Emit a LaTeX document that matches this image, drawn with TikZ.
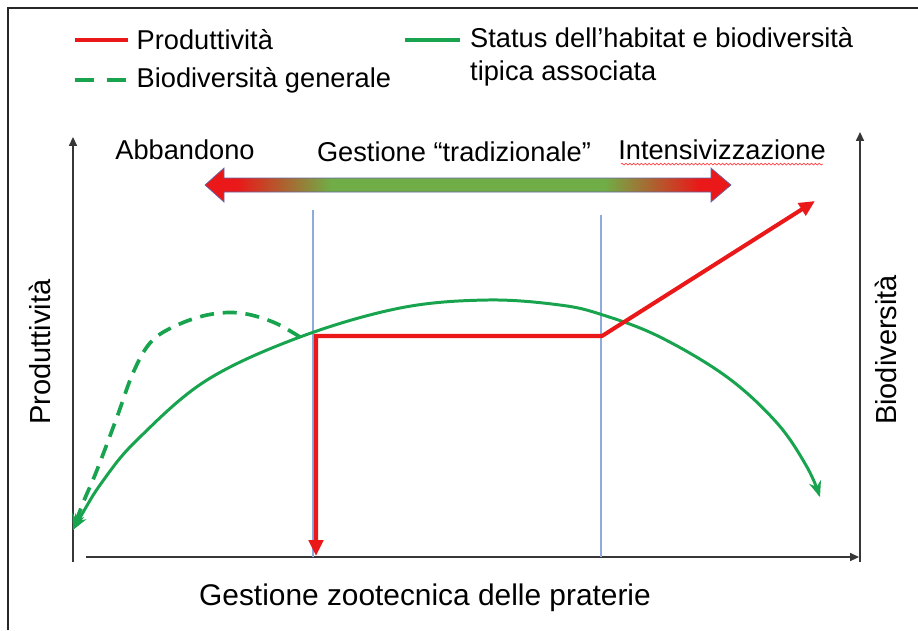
\documentclass[tikz,border=0pt]{standalone}
\usepackage{fontspec}
\setmainfont{Liberation Sans}
\usetikzlibrary{shapes, arrows.meta, positioning, decorations.pathmorphing}

\definecolor{prodred}{RGB}{234,24,24}
\definecolor{habgreen}{RGB}{24,164,78}
\definecolor{bargreen}{RGB}{112,173,71}
\definecolor{guideblue}{RGB}{143,170,220}
\definecolor{axisgray}{RGB}{55,55,55}
\pgfdeclarehorizontalshading{gestshade}{100bp}{color(0bp)=(prodred); color(28bp)=(prodred); color(37bp)=(bargreen); color(63bp)=(bargreen); color(72bp)=(prodred); color(100bp)=(prodred)}

\begin{document}
\begin{tikzpicture}[x=0.02cm, y=-0.02cm,
    font=\fontsize{15.5}{18.5}\selectfont,
    axis/.style={draw=axisgray, line width=0.9pt},
    prodline/.style={draw=prodred, line width=2.3pt},
    habline/.style={draw=habgreen, line width=1.7pt},
    guide/.style={draw=guideblue, line width=0.6pt},
    biglabel/.style={font=\fontsize{16.5}{19}\selectfont}]

\useasboundingbox (0,0) rectangle (918,630);

% Frame
\draw[line width=1.2pt, black!85] (8,630) -- (8,8) -- (918,8);

% Legend
\coordinate (lr1) at (75,40);
\coordinate (lr2) at (128,40);
\coordinate (ld1) at (75,80);
\coordinate (ld2) at (128,80);
\coordinate (lg1) at (405,40);
\coordinate (lg2) at (460,40);
\draw[prodline] (lr1) -- (lr2);
\draw[habline, line width=2.1pt, dash pattern=on 11pt off 7pt] (ld1) -- (ld2);
\draw[habline, line width=2.1pt] (lg1) -- (lg2);
\node[right=0.05cm of lr2] (legprod) {Produttività};
\node[right=0.05cm of ld2] (legbio) {Biodiversità generale};
\node[align=left, anchor=west] (legstatus) at (464,57) {Status dell’habitat e biodiversità\\tipica associata};

% Axes
\coordinate (ybot) at (73,562);
\coordinate (ytop) at (73,137);
\coordinate (xleft) at (86,557);
\coordinate (xright) at (859,557);
\coordinate (rbot) at (860,562);
\coordinate (rtop) at (860,132);
\draw[axis, -{Triangle[length=5pt,width=4.5pt]}] (ybot) -- (ytop);
\draw[axis, -{Triangle[length=5pt,width=4.5pt]}] (xleft) -- (xright);
\draw[axis, -{Triangle[length=5pt,width=4.5pt]}] (rbot) -- (rtop);

\node[biglabel, rotate=90] (ylabprod) at (40,352) {Produttività};
\node[biglabel, rotate=90] (ylabbio) at (886,350) {Biodiversità};
\node[font=\fontsize{17}{20}\selectfont] (xlab) at (425,598) {Gestione zootecnica delle praterie};

% Management scale
\node (abbandono) at (185,150) {Abbandono};
\node (tradizionale) at (454,152) {Gestione “tradizionale”};
\node (intensiv) at (722,150) {Intensivizzazione};
\draw[decorate, decoration={snake, amplitude=0.5pt, segment length=2.2pt}, red!75, line width=0.4pt]
    ([xshift=5pt,yshift=-2.5pt]intensiv.base west) -- ([xshift=-5pt,yshift=-2.5pt]intensiv.base east);
\shadedraw[shading=gestshade, draw=black!55!blue!60, line width=0.4pt]
    (205,185) -- (224,168) -- (224,178) -- (711,178) -- (711,168) -- (731,185)
    -- (711,202) -- (711,192) -- (224,192) -- (224,202) -- cycle;

% Guides
\coordinate (g1top) at (313,210);
\coordinate (g1bot) at (313,557);
\coordinate (g2top) at (601,215);
\coordinate (g2bot) at (601,557);
\draw[guide] (g1top) -- (g1bot);
\draw[guide] (g2top) -- (g2bot);

% Curves
\draw[habline, {Stealth[length=9pt,width=7pt]}-{Stealth[length=9pt,width=7pt]}]
    plot[smooth, tension=0.6] coordinates {(73,530) (105,478) (140,437) (207,380) (300,337) (400,308) (487,300) (560,305) (603,315) (660,337) (727,377) (777,423) (807,467) (820,497)};
\draw[habline, line width=2.1pt, dash pattern=on 8pt off 5pt, -{Stealth[length=9pt,width=7pt]}]
    plot[smooth, tension=0.6] coordinates {(300,337) (273,322) (240,313) (207,315) (173,327) (150,343) (133,373) (117,417) (97,470) (83,503) (73,530)};

\coordinate (pdown) at (316,556);
\coordinate (pleft) at (316,336);
\coordinate (pright) at (602,336);
\coordinate (pup) at (815,201);
\draw[prodline, {Triangle[length=9pt,width=8pt]}-{Triangle[length=9pt,width=8pt]}]
    (pdown) -- (pleft) -- (pright) -- (pup);

\end{tikzpicture}
\end{document}
